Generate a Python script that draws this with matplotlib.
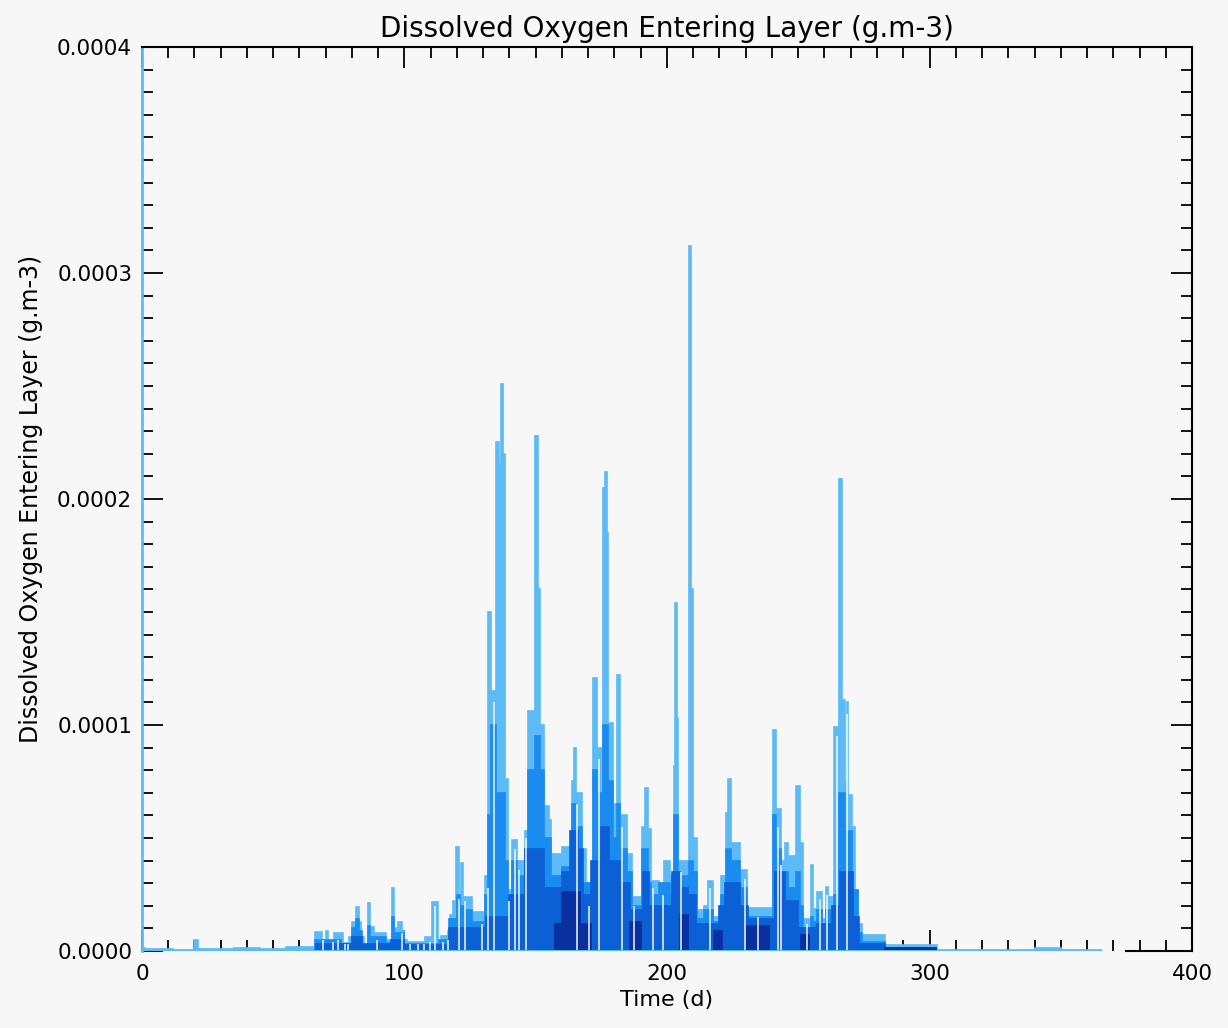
import matplotlib
matplotlib.use("Agg")
import matplotlib.pyplot as plt
import numpy as np
from matplotlib.ticker import MultipleLocator, FormatStrFormatter

# step series for the four layers: (start day, value in 1e-5 g.m-3)
light_steps = [(0, 0.15), (1, 0.1), (12, 0.05), (20, 0.5), (21.5, 0.08), (35, 0.12), (45, 0.08),
               (55, 0.18), (66, 0.85), (68.6, 0.5), (70, 0.9), (71, 0.45), (73, 0.8), (76.5, 0.35),
               (78.7, 0.6), (80, 1.3), (81.5, 1.96), (82.5, 1.3), (83.5, 0.6), (84.5, 0.2), (86.2, 2.14),
               (87, 1.07), (88.5, 0.8), (93, 0.5), (95.2, 2.77), (96.2, 1.0), (97.5, 1.3), (99, 0.9),
               (100, 0.5), (101, 0.4), (108, 0.6), (110.4, 2.18), (112.9, 0.5), (114, 0.65), (116.5, 0.9),
               (117.5, 1.6), (118.5, 2.2), (119.8, 4.6), (120.8, 2.5), (121.5, 3.9), (122.2, 2.4),
               (125.6, 1.74), (130.6, 3.3), (132, 15.0), (133, 11.5), (135, 22.5), (136, 21.5),
               (136.6, 25.1), (137.4, 22.0), (138.2, 7.6), (139.5, 2.7), (141, 4.9), (143, 4.0),
               (146, 5.3), (147, 10.6), (149.8, 22.8), (150.9, 16.0), (151.6, 10.0), (153, 6.4),
               (155, 5.8), (156, 4.3), (160, 4.6), (163.7, 7.5), (164.5, 9.0), (165.3, 7.0), (167.5, 4.5),
               (169, 3.0), (170.7, 2.3), (171.8, 12.1), (173.2, 9.0), (175.6, 20.5), (176.4, 21.2),
               (177, 18.5), (177.6, 10.1), (179.5, 6.5), (181, 12.2), (182, 6.0), (184.6, 4.3),
               (186.6, 2.4), (190.4, 5.5), (191.8, 7.2), (192.6, 5.4), (194, 3.1), (197, 2.9), (199, 4.0),
               (201, 3.3), (202.6, 8.2), (203, 15.4), (203.7, 10.3), (204.3, 4.0), (208.4, 31.2),
               (209.2, 16.0), (210, 5.0), (211.4, 1.8), (214, 2.0), (215.5, 3.1), (217.5, 1.5),
               (220.7, 3.3), (222.4, 6.1), (223.3, 7.6), (224.2, 4.8), (227.8, 3.6), (230.3, 1.9),
               (240.5, 9.8), (241.5, 6.3), (243.5, 4.0), (245, 4.8), (246.2, 4.2), (249.3, 7.3),
               (250.5, 4.8), (251.8, 1.4), (254.8, 3.8), (255.5, 1.85), (257, 2.6), (259, 1.4),
               (260.5, 2.85), (261.3, 2.4), (263.5, 9.9), (265.7, 20.9), (266.5, 11.1), (267.9, 7.5),
               (268.4, 11.0), (269, 6.9), (270.3, 5.5), (271.5, 2.7), (272.9, 1.2), (274.1, 0.7),
               (283, 0.25), (303, 0.04), (340, 0.15), (350, 0.04)]
light_end = 365.6

medium_steps = [(60, 0.0), (66, 0.5), (76, 0.3), (80, 1.0), (81.5, 1.4), (82.5, 0.9), (84, 0.15),
                (86.2, 1.1), (87, 0.6), (93, 0.35), (95.2, 1.5), (96.2, 0.8), (100, 0.3), (113, 0.5),
                (117, 1.4), (120, 2.5), (121, 2.0), (123, 1.8), (125.6, 1.3), (130.6, 2.5), (132, 6.0),
                (133, 10.0), (135, 7.0), (138.2, 4.0), (139.5, 1.5), (141, 4.0), (143, 3.3), (146, 4.5),
                (147, 8.0), (149.8, 9.5), (151.6, 8.0), (153, 5.0), (156, 3.3), (160, 3.7), (163.7, 6.5),
                (165.3, 5.5), (167.5, 3.0), (170.7, 2.0), (171.8, 8.0), (173.2, 7.0), (175.6, 10.0),
                (177.6, 7.5), (179.5, 5.0), (181, 6.5), (182, 4.5), (184.6, 3.5), (186.6, 2.0),
                (190.4, 4.5), (192.6, 3.0), (194, 2.5), (197, 3.0), (201, 2.5), (202.6, 6.0), (204.3, 3.3),
                (208.4, 4.0), (210, 3.5), (211.4, 1.4), (214, 1.8), (217.5, 1.3), (220.7, 2.5),
                (222.4, 4.5), (224.2, 4.0), (227.8, 2.8), (230.3, 1.5), (240.5, 6.0), (241.5, 4.5),
                (243.5, 2.5), (245, 3.5), (246.2, 2.8), (249.3, 3.5), (250.5, 2.0), (251.8, 1.0),
                (254.8, 1.5), (255.5, 1.3), (257, 1.8), (259, 1.1), (260.5, 1.8), (263.5, 2.5),
                (265.7, 7.0), (267.9, 5.3), (270.3, 2.7), (272.9, 0.8), (274.1, 0.4), (283, 0.15)]
medium_end = 303

dark_steps = [(66, 0.3), (80, 0.6), (84, 0.3), (95, 0.5), (100, 0.25), (117, 1.0), (131, 1.5),
              (140, 2.5), (146, 4.5), (153, 2.8), (160, 3.5), (163, 5.3), (166, 4.5), (168, 2.5),
              (171, 4.0), (175, 5.5), (178, 4.0), (182, 3.0), (186, 1.8), (191, 3.5), (193, 2.0),
              (202, 3.5), (205, 2.8), (208, 2.5), (211, 1.2), (220, 2.0), (222, 3.0), (228, 2.0),
              (231, 1.4), (241, 3.5), (245, 2.2), (250, 1.0), (257, 1.2), (263, 2.0), (266, 3.5),
              (271, 1.5), (273, 0.3), (283, 0.15)]
dark_end = 303

navy_steps = [(157, 1.2), (160, 2.6), (167, 1.2), (171, 0.0), (186, 1.3), (190, 0.0), (205, 1.6),
              (208, 0.0), (218, 0.9), (221, 0.0), (230, 1.1), (239, 0.0), (251, 0.7), (254, 0.0),
              (283, 0.12)]
navy_end = 303

# days where every layer drops to zero, with the height of the break
gap_days = [69, 72.8, 74.7, 77.3, 78.5, 89.4, 98.9, 102, 105, 107.4, 109.7, 111.6, 114.5, 116.5,
            120.8, 123.2, 129.6, 131.7, 134, 139.8, 142.1, 143.6, 146.3, 165.6, 170.3, 174.1,
            182.7, 187.5, 194.8, 198.3, 205.3, 216.4, 229.7, 234.5, 242.3, 243.4, 253.2, 258.3,
            260.8, 264.6, 268.4]
gap_tops = [0.5, 0.4, 0.5, 0.3, 0.3, 0.5, 0.8, 0.3, 0.3, 0.3, 0.4, 2.0, 0.4, 0.5,
            2.3, 2.2, 1.2, 2.8, 11.0, 2.2, 4.5, 3.6, 5.0, 6.5, 2.0, 8.5,
            5.5, 2.0, 2.8, 2.5, 3.5, 2.8, 3.2, 1.5, 5.5, 3.8, 1.2, 2.3,
            2.5, 9.5, 10.5]

SCALE = 1e-5

light_c = "#5cbaf5"
layers = [
    (light_steps, light_end, light_c),
    (medium_steps, medium_end, "#1a8cf0"),
    (dark_steps, dark_end, "#0b60d6"),
    (navy_steps, navy_end, "#0a2f9f"),
]

bg = "#f7f7f7"
fig = plt.figure(figsize=(12.28, 10.28), dpi=100, facecolor=bg)
ax = fig.add_axes([0.1156, 0.0749, 0.8551, 0.8794], facecolor=bg)

for steps, end, col in layers:
    edges = np.array([s[0] for s in steps] + [end])
    vals = np.array([s[1] for s in steps]) * SCALE
    ax.stairs(vals, edges, fill=True, color=col, baseline=0, zorder=3)
    ax.stairs(vals, edges, fill=False, color=col, lw=1.2, baseline=None, zorder=3)

ax.vlines(gap_days, 0, np.array(gap_tops) * SCALE, color=bg, lw=1.1, zorder=3.5)

# zero line of the run
ax.hlines(0, light_steps[0][0], light_end, color=light_c, lw=2.2, zorder=4)

ax.set_xlim(0, 400)
ax.set_ylim(0, 0.0004)
ax.xaxis.set_major_locator(MultipleLocator(100))
ax.xaxis.set_minor_locator(MultipleLocator(10))
ax.yaxis.set_major_locator(MultipleLocator(0.0001))
ax.yaxis.set_minor_locator(MultipleLocator(0.00001))
ax.yaxis.set_major_formatter(FormatStrFormatter("%.4f"))

ax.tick_params(which="both", direction="in", top=True, right=True, color="black",
               width=1.3, labelsize=15.5)
ax.tick_params(which="major", length=15)
ax.tick_params(which="minor", length=8)
ax.tick_params(axis="x", pad=9)
ax.tick_params(axis="y", pad=7)

for side in ["top", "right", "bottom"]:
    ax.spines[side].set_linewidth(1.5)
    ax.spines[side].set_color("black")
ax.spines["bottom"].set_bounds(375, 400)
ax.spines["left"].set_color(light_c)
ax.spines["left"].set_linewidth(2)

ax.set_title("Dissolved Oxygen Entering Layer (g.m-3)", fontsize=20, pad=7)
ax.set_xlabel("Time (d)", fontsize=16, labelpad=5)
ax.set_ylabel("Dissolved Oxygen Entering Layer (g.m-3)", fontsize=17, labelpad=10)

fig.savefig("out.png", dpi=100, facecolor=bg)
